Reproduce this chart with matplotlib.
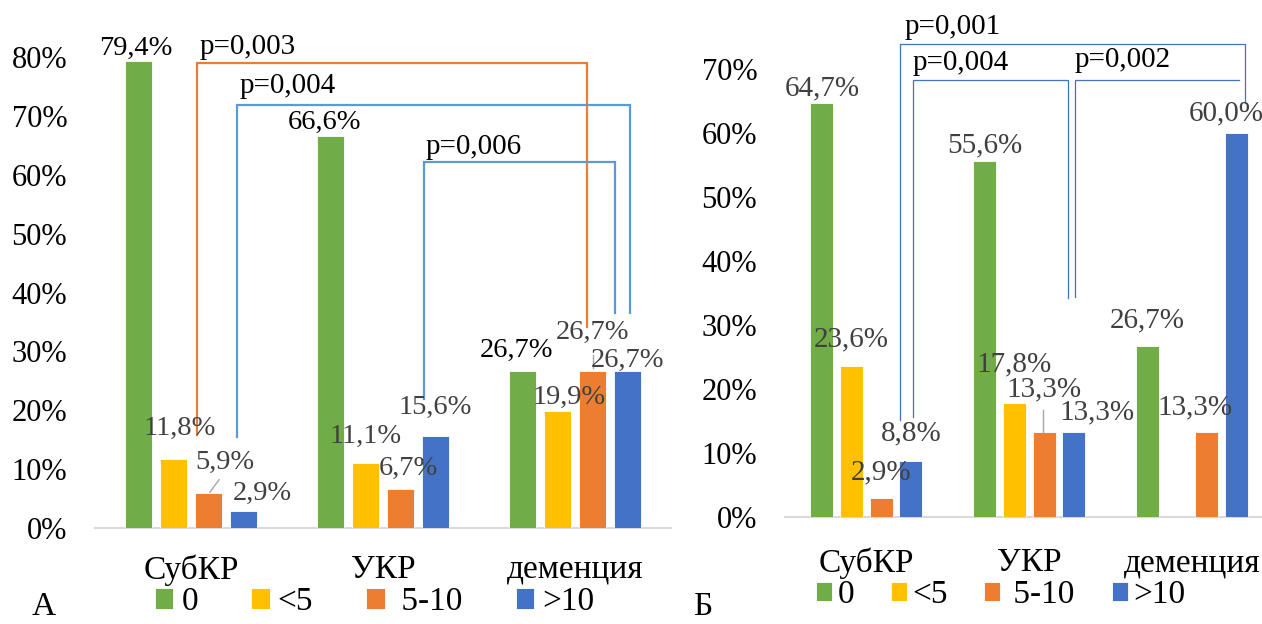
import matplotlib
matplotlib.use("Agg")
import matplotlib.pyplot as plt
from matplotlib.ticker import FuncFormatter, MultipleLocator

plt.rcParams['font.family'] = ['Liberation Serif', 'DejaVu Serif']

# ---- data -------------------------------------------------------------
groups = ["СубКР", "УКР", "деменция"]
series_names = ["0", "<5", " 5-10", ">10"]
series_colors = ["#70AD47", "#FFC000", "#ED7D31", "#4472C4"]

# panel А
a_zero = [79.4, 66.6, 26.7]
a_lt5 = [11.8, 11.1, 19.9]
a_5_10 = [5.9, 6.7, 26.7]
a_gt10 = [2.9, 15.6, 26.7]

# panel Б
b_zero = [64.7, 55.6, 26.7]
b_lt5 = [23.6, 17.8, 0.0]
b_5_10 = [2.9, 13.3, 13.3]
b_gt10 = [8.8, 13.3, 60.0]

a_pvalues = ["p=0,003", "p=0,004", "p=0,006"]
b_pvalues = ["p=0,001", "p=0,004", "p=0,002"]

# ---- layout / style -----------------------------------------------------
W, H = 1262, 624
BAR_STEP = 0.182
BAR_W = 0.141
GRAY_TXT = "#404040"

# label placement: (dx in category units, dy in %) per series/group
a_label_dx = [[-0.013, -0.031, -0.031], [0.034, 0.0, 0.06], [0.086, 0.039, 0.0], [0.096, 0.0, 0.0]]
a_label_dy = [[2.1, 2.3, 3.5], [5.2, 4.4, 2.2], [5.3, 3.5, 6.6], [3.0, 4.8, 1.8]]
a_label_col = ["black", GRAY_TXT, GRAY_TXT, GRAY_TXT]

b_label_dx = [[0.0, 0.0, 0.0], [0.0, 0.0, 0.0], [0.0, 0.0, -0.071], [0.0, 0.144, -0.064]]
b_label_dy = [[2.2, 2.5, 4.1], [4.1, 6.0, 0.0], [4.1, 6.7, 3.9], [4.3, 3.1, 3.0]]
b_label_col = [GRAY_TXT, GRAY_TXT, GRAY_TXT, GRAY_TXT]

# leader lines: (series, group, dx0, dy0, dx1, dy1) relative to bar top
a_leaders = [(2, 0, 0.008, 0.2, 0.055, 2.3), (2, 2, 0.003, 0.5, 0.003, 2.7)]
b_leaders = [(2, 1, -0.008, 0.0, -0.008, 3.4)]

# brackets: x_left, x_right, y_top, y_left_end, y_right_end, colour, lw,
#           text x, text y
a_brackets = [
    (0.531, 2.5625, 78.9, 15.8, 34.1, "#ED7D31", 1.6, 0.547, 81.7),
    (0.740, 2.786, 71.8, 15.4, 36.5, "#5B9BD5", 1.6, 0.755, 75.0),
    (1.714, 2.708, 62.1, 21.9, 36.5, "#5B9BD5", 1.6, 1.724, 64.7),
]
b_brackets = [
    (0.7055, 2.828, 73.9, 15.2, 64.7, "#4472C4", 0.9, 0.736, 76.6),
    (0.785, 1.736, 68.3, 15.6, 34.2, "#4472C4", 0.9, 0.785, 70.9),
    (1.779, 2.791, 68.3, 34.4, None, "#4472C4", 0.9, 1.779, 71.4),
]


def fmt_pct(v):
    return f"{v:.1f}".replace(".", ",") + "%"


def draw_panel(ax, series_vals, ymax, label_dx, label_dy, label_col,
               leaders, brackets, pvalues, label_fs, xtick_pad):
    for s, vals in enumerate(series_vals):
        xs = [g + 0.5 + (s - 1.5) * BAR_STEP for g in range(len(groups))]
        ax.bar(xs, vals, BAR_W, color=series_colors[s], edgecolor="white",
               linewidth=0.6, label=series_names[s], zorder=2)
        for g, (x, v) in enumerate(zip(xs, vals)):
            if v <= 0:
                continue
            ax.text(x + label_dx[s][g], v + label_dy[s][g], fmt_pct(v),
                    ha="center", va="center", fontsize=label_fs,
                    color=label_col[s], zorder=4, clip_on=False)
    for s, g, dx0, dy0, dx1, dy1 in leaders:
        x = g + 0.5 + (s - 1.5) * BAR_STEP
        v = series_vals[s][g]
        ax.plot([x + dx0, x + dx1], [v + dy0, v + dy1], color="#A6A6A6",
                lw=1.0, zorder=3, clip_on=False)
    for (xl, xr, yt, yl, yr, col, lw, tx, ty), ptxt in zip(brackets, pvalues):
        xs = [xl, xl, xr]
        ys = [yl, yt, yt]
        if yr is not None:
            xs.append(xr)
            ys.append(yr)
        ax.plot(xs, ys, color=col, lw=lw, zorder=3, clip_on=False,
                solid_joinstyle="miter")
        ax.text(tx, ty, ptxt, ha="left", va="center", fontsize=21,
                color="black", clip_on=False, zorder=4)

    ax.set_xlim(0, 3)
    ax.set_ylim(0, ymax)
    ax.yaxis.set_major_locator(MultipleLocator(10))
    ax.yaxis.set_major_formatter(FuncFormatter(lambda v, p: f"{int(round(v))}%"))
    ax.set_xticks([0.5, 1.5, 2.5])
    ax.set_xticklabels(groups)
    ax.tick_params(axis="y", length=0, pad=20, labelsize=22, labelcolor="black")
    ax.tick_params(axis="x", length=0, pad=xtick_pad, labelsize=24, labelcolor="black")
    for side in ("left", "right", "top"):
        ax.spines[side].set_visible(False)
    ax.spines["bottom"].set_color("#D9D9D9")
    ax.spines["bottom"].set_linewidth(1.5)
    ax.spines["bottom"].set_zorder(1)


fig = plt.figure(figsize=(W / 100, H / 100), dpi=100)

ax_a = fig.add_axes([95 / W, (H - 528) / H, 576 / W, 471 / H])
ax_a.patch.set_alpha(0)
draw_panel(ax_a, [a_zero, a_lt5, a_5_10, a_gt10], 80, a_label_dx, a_label_dy,
           a_label_col, a_leaders, a_brackets, a_pvalues, 20.5, 19)

ax_b = fig.add_axes([785 / W, (H - 517) / H, 488.5 / W, 448 / H])
ax_b.patch.set_alpha(0)
draw_panel(ax_b, [b_zero, b_lt5, b_5_10, b_gt10], 70, b_label_dx, b_label_dy,
           b_label_col, b_leaders, b_brackets, b_pvalues, 21, 22)

handles_a, labels_a = ax_a.get_legend_handles_labels()
fig.legend(handles_a, labels_a, loc="center left",
           bbox_to_anchor=(155 / W, (H - 602) / H), bbox_transform=fig.transFigure,
           ncol=4, frameon=False, fontsize=24, borderpad=0, borderaxespad=0,
           handlelength=0.55, handleheight=0.57, handletextpad=0.24,
           columnspacing=1.6)

handles_b, labels_b = ax_b.get_legend_handles_labels()
fig.legend(handles_b, labels_b, loc="center left",
           bbox_to_anchor=(816 / W, (H - 595) / H), bbox_transform=fig.transFigure,
           ncol=4, frameon=False, fontsize=24, borderpad=0, borderaxespad=0,
           handlelength=0.49, handleheight=0.5, handletextpad=0.15,
           columnspacing=1.1)

fig.text(32 / W, (H - 615) / H, "А", fontsize=24, ha="left", va="baseline")
fig.text(693 / W, (H - 615) / H, "Б", fontsize=24, ha="left", va="baseline")

fig.savefig("out.png", dpi=100)
